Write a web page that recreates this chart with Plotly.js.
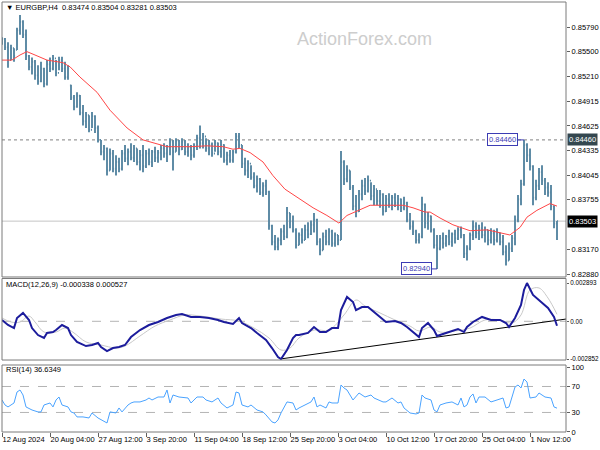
<!DOCTYPE html>
<html><head><meta charset="utf-8">
<script src="https://cdn.plot.ly/plotly-3.0.1.min.js"></script>
<style>html,body{margin:0;padding:0;background:#fff}#chart{width:600px;height:450px}</style>
</head><body><div id="chart"></div>
<script>
const symbolTitle = "\u25BC EURGBP,H4  0.83474 0.83504 0.83281 0.83503";
const macdTitle = "MACD(12,26,9) -0.000338 0.000527";
const rsiTitle = "RSI(14) 36.6349";
const watermark = "ActionForex.com";

const timeTickIdx = [0,16,32,48,64,80,96,112,128,144,160,176];
const timeLabels = ["12 Aug 2024","20 Aug 04:00","27 Aug 12:00","3 Sep 20:00","11 Sep 04:00","18 Sep 12:00","25 Sep 20:00","3 Oct 04:00","10 Oct 12:00","17 Oct 20:00","25 Oct 04:00","1 Nov 12:00"];
const priceTicks = [0.85790,0.85500,0.85210,0.84915,0.84625,0.84335,0.84045,0.83755,0.83170,0.82880];
const priceTickText = ["0.85790","0.85500","0.85210","0.84915","0.84625","0.84335","0.84045","0.83755","0.83170","0.82880"];
const macdTicks = [0.002893,0,-0.002852];
const macdTickText = ["0.002893","0.00","-0.002852"];
const rsiTicks = [100,70,30,0];
const rsiTickText = ["100","70","30","0"];

const opens = [.8560,.8565,.8555,.8540,.8554,.8552,.8575,.8585,.8570,.8545,
.8532,.8538,.8522,.8515,.8530,.8512,.8535,.8530,.8542,.8525,
.8540,.8530,.8520,.8510,.8496,.8485,.8498,.8478,.8468,.8475,
.8458,.8474,.8460,.8446,.8432,.8436,.8410,.8430,.8412,.8420,
.8412,.8430,.8424,.8432,.8425,.8436,.8420,.8428,.8415,.8430,
.8420,.8432,.8425,.8431,.8436,.8430,.8438,.8444,.8432,.8445,
.8435,.8444,.8432,.8438,.8428,.8438,.8448,.8442,.8450,.8436,
.8440,.8430,.8442,.8432,.8440,.8422,.8428,.8422,.8432,.8450,
.8440,.8418,.8410,.8418,.8402,.8392,.8400,.8384,.8392,.8385,
.8345,.8326,.8320,.8328,.8338,.8332,.8360,.8350,.8340,.8322,
.8334,.8328,.8340,.8335,.8346,.8352,.8326,.8316,.8332,.8326,
.8338,.8324,.8334,.8328,.8420,.8400,.8410,.8390,.8368,.8362,
.8382,.8392,.8386,.8398,.8380,.8388,.8374,.8382,.8362,.8376,
.8370,.8378,.8372,.8376,.8366,.8372,.8352,.8344,.8338,.8328,
.8332,.8370,.8348,.8356,.8340,.8322,.8318,.8330,.8324,.8332,
.8326,.8335,.8330,.8340,.8334,.8312,.8318,.8334,.8344,.8336,
.8342,.8334,.8340,.8328,.8336,.8328,.8336,.8326,.8314,.8304,
.8318,.8330,.8352,.8376,.8394,.8440,.8428,.8415,.8378,.8392,
.8408,.8398,.8390,.8384,.8368,.83474];
const highs = [.8567,.8566,.8561,.8558,.8554,.8578,.8593,.8587,.8576,.8546,
.8543,.8540,.8534,.8538,.8531,.8540,.8543,.8546,.8540,.8544,
.8544,.8538,.8534,.8511,.8499,.8502,.8499,.8487,.8479,.8475,
.8479,.8475,.8463,.8446,.8440,.8437,.8436,.8434,.8428,.8425,
.8434,.8440,.8436,.8442,.8440,.8436,.8434,.8440,.8434,.8436,
.8434,.8438,.8434,.8440,.8442,.8440,.8448,.8446,.8448,.8446,
.8448,.8446,.8442,.8440,.8442,.8452,.8463,.8454,.8448,.8446,
.8443,.8446,.8443,.8446,.8441,.8432,.8434,.8434,.8454,.8454,
.8440,.8425,.8422,.8416,.8408,.8404,.8401,.8396,.8399,.8386,
.8346,.8334,.8331,.8342,.8346,.8367,.8360,.8357,.8342,.8337,
.8342,.8346,.8349,.8351,.8360,.8353,.8330,.8337,.8340,.8342,
.8340,.8337,.8334,.8433,.8422,.8416,.8410,.8393,.8381,.8387,
.8399,.8401,.8404,.8396,.8393,.8387,.8387,.8383,.8381,.8383,
.8381,.8383,.8381,.8377,.8379,.8373,.8360,.8351,.8340,.8336,
.8379,.8371,.8361,.8357,.8342,.8334,.8334,.8337,.8334,.8340,
.8337,.8340,.8343,.8344,.8335,.8322,.8337,.8351,.8349,.8346,
.8349,.8344,.8340,.8342,.8340,.8342,.8337,.8334,.8322,.8325,
.8334,.8357,.8381,.8399,.84460,.8442,.8436,.8416,.8399,.8413,
.8416,.8401,.8396,.8393,.8369,.83504];
const lows = [.8558,.8552,.8531,.8540,.8538,.8552,.8570,.8566,.8540,.8528,
.8523,.8517,.8511,.8514,.8508,.8510,.8526,.8528,.8521,.8528,
.8526,.8517,.8517,.8493,.8481,.8484,.8475,.8463,.8460,.8455,
.8460,.8454,.8443,.8428,.8422,.8404,.8410,.8408,.8404,.8408,
.8410,.8420,.8416,.8422,.8420,.8416,.8410,.8408,.8413,.8416,
.8414,.8420,.8419,.8422,.8425,.8420,.8428,.8410,.8432,.8428,
.8434,.8428,.8426,.8422,.8425,.8434,.8436,.8436,.8432,.8428,
.8426,.8432,.8428,.8425,.8419,.8416,.8419,.8419,.8430,.8436,
.8413,.8404,.8401,.8399,.8389,.8384,.8381,.8379,.8381,.8340,
.8322,.8316,.8316,.8322,.8328,.8330,.8342,.8337,.8318,.8322,
.8324,.8328,.8330,.8334,.8337,.8322,.8310,.8316,.8322,.8322,
.8320,.8320,.8322,.8328,.8393,.8396,.8387,.8363,.8355,.8361,
.8375,.8381,.8384,.8375,.8369,.8369,.8366,.8357,.8361,.8366,
.8363,.8367,.8363,.8361,.8363,.8349,.8340,.8334,.8324,.8324,
.8330,.8342,.8340,.8337,.8318,.82940,.8316,.8318,.8320,.8322,
.8320,.8324,.8328,.8330,.8307,.8304,.8316,.8328,.8330,.8328,
.8330,.8325,.8322,.8324,.8322,.8325,.8322,.8310,.8298,.8304,
.8314,.8322,.8349,.8369,.8392,.8420,.8410,.8369,.8375,.8387,
.8393,.8381,.8379,.8363,.8342,.83281];
const closes = [.8565,.8555,.8540,.8554,.8545,.8575,.8585,.8570,.8545,.8532,
.8538,.8522,.8515,.8530,.8512,.8535,.8530,.8542,.8525,.8540,
.8530,.8520,.8530,.8496,.8485,.8498,.8478,.8468,.8475,.8458,
.8474,.8460,.8446,.8432,.8436,.8410,.8430,.8412,.8420,.8412,
.8430,.8424,.8432,.8425,.8436,.8420,.8428,.8415,.8430,.8420,
.8432,.8425,.8431,.8436,.8430,.8438,.8444,.8432,.8445,.8435,
.8444,.8432,.8438,.8428,.8438,.8448,.8442,.8450,.8436,.8440,
.8430,.8442,.8432,.8440,.8422,.8428,.8422,.8432,.8450,.8440,
.8418,.8410,.8418,.8402,.8392,.8400,.8384,.8392,.8385,.8345,
.8326,.8320,.8328,.8338,.8332,.8360,.8350,.8340,.8322,.8334,
.8328,.8340,.8335,.8346,.8352,.8326,.8316,.8332,.8326,.8338,
.8324,.8334,.8328,.8420,.8400,.8410,.8390,.8368,.8362,.8382,
.8392,.8386,.8398,.8380,.8388,.8374,.8382,.8362,.8376,.8370,
.8378,.8372,.8376,.8366,.8372,.8352,.8344,.8338,.8328,.8332,
.8370,.8348,.8356,.8340,.8322,.8318,.8330,.8324,.8332,.8326,
.8335,.8330,.8340,.8334,.8312,.8318,.8334,.8344,.8336,.8342,
.8334,.8340,.8328,.8336,.8328,.8336,.8326,.8314,.8304,.8318,
.8330,.8352,.8376,.8394,.8440,.8428,.8415,.8378,.8392,.8408,
.8398,.8390,.8384,.8368,.83474,.83503];

const maIdx = [0,3.3,6,8.3,11,15,20.3,22.7,26,31.7,36,41.7,47,55,62.7,68.3,73.7,77,79.3,82.7,87,90.3,94.3,98.3,103.7,108.3,112.3,115,118.3,122.7,126,133.7,137,141,142.7,146,150.3,156,161.7,166,169.3,172.7,175,178.3,182.7,185];
const maVal = [.8540,.8540,.8546,.8550,.8546,.8540,.8537,.8532,.8520,.8502,.8481,.8460,.8446,.8438,.8438,.8439,.8438,.8435,.8436,.8431,.8420,.8404,.8388,.8379,.8366,.8357,.8348,.8357,.8362,.8369,.8369,.8369,.8366,.8361,.8361,.8354,.8346,.8339,.8340,.8337,.8334,.8343,.8355,.8363,.8371,.8368];

const macdIdx = [0,2,4,5,7,9,10,12,14,15,17,18,20,22,23,25,28,30,32,33,35,37,39,41,43,46,49,52,55,58,60,63,66,69,72,74,77,79,80,83,85,88,90,92,93,95,97,98,99,102,104,106,108,110,112,113,115,117,118,120,122,124,126,128,131,133,135,137,139,140,142,144,145,148,150,152,154,155,157,160,163,166,168,169,171,173,174,175,177,179,180,182,184,185];
const macdVal = [0.00010,-0.00028,-0.00051,0.00025,0.00063,0.00010,-0.00051,-0.00104,-0.00126,-0.00088,-0.00081,-0.00066,-0.00028,-0.00051,-0.00104,-0.00156,-0.00187,-0.00179,-0.00164,-0.00194,-0.00225,-0.00202,-0.00194,-0.00179,-0.00119,-0.00066,-0.00028,-0.00005,0.00025,0.00048,0.00055,0.00033,0.00033,0.00025,0.00010,-0.00005,-0.00020,0.00025,-0.00013,-0.00051,-0.00088,-0.00141,-0.00202,-0.00270,-0.002852,-0.00217,-0.00126,-0.00104,-0.00104,-0.00088,-0.00043,-0.00081,-0.00081,-0.00051,-0.00051,0.00085,0.00184,0.00146,0.00085,0.00108,0.00108,0.00070,0.00033,-0.00005,0.00002,-0.00013,-0.00043,-0.00081,-0.00119,-0.00051,-0.00013,-0.00066,-0.00111,-0.00088,-0.00073,-0.00058,-0.00081,-0.00043,-0.00005,0.00033,0.00010,0.00010,-0.00013,-0.00043,0.00025,0.00123,0.00237,0.002893,0.00199,0.00161,0.00146,0.00101,0.00033,-0.000338];
const signalIdx = [0,3,6,9,11,14,18,21,24,28,33,38,41,46,51,56,61,66,73,79,84,89,93,96,99,104,109,114,118,121,126,131,136,139,143,146,151,156,161,166,170,173,176,179,182,185];
const signalVal = [0.00025,-0.00005,-0.00005,0.00040,-0.00005,-0.00081,-0.00081,-0.00051,-0.00088,-0.00156,-0.00179,-0.00202,-0.00187,-0.00111,-0.00036,0.00010,0.00048,0.00040,0.00017,0.00002,-0.00051,-0.00126,-0.00217,-0.00202,-0.00126,-0.00066,-0.00066,0.00048,0.00161,0.00116,0.00063,0.00010,-0.00036,-0.00073,-0.00043,-0.00081,-0.00073,-0.00051,0.00010,0.00010,-0.00013,0.00048,0.00237,0.00252,0.00176,0.000527];
const trendIdx = [92.7,188];
const trendVal = [-0.00285,0.00017];

const rsiIdx = [0,1,2,4,5,6,7,8,10,12,13,14,16,17,18,19,20,22,23,24,25,27,29,30,32,34,35,36,38,39,40,42,43,44,46,48,49,50,52,54,55,56,57,59,62,63,65,67,68,70,72,73,75,77,78,79,80,82,83,85,87,88,90,91,92,93,95,97,98,99,101,103,104,105,106,108,109,110,112,113,114,115,117,118,119,121,123,124,127,128,130,132,133,134,136,138,139,140,141,143,144,145,146,148,150,152,153,154,155,156,157,158,159,161,163,165,167,168,169,170,171,172,173,174,175,176,178,179,181,183,184,185];
const rsiVal = [49.2,41.5,38.5,44.6,61.5,64.6,56.9,38.5,33.8,30.8,30.8,41.5,44.6,38.5,49.2,53.8,41.5,38.5,30.8,29.2,23.1,23.1,21.5,29.2,21.5,16.9,13.8,30.8,29.2,36.9,30.8,41.5,44.6,46.2,46.2,49.2,52.3,49.2,53.8,53.8,64.6,44.6,56.9,53.8,52.3,44.6,53.8,53.8,49.2,46.2,52.3,44.6,36.9,41.5,61.5,60.0,41.5,38.5,41.5,33.8,30.8,26.2,15.4,13.8,18.5,29.2,46.2,44.6,33.8,36.9,41.5,46.2,53.8,38.5,41.5,36.9,46.2,44.6,44.6,72.3,67.7,64.6,49.2,53.8,60.0,53.8,56.9,52.3,46.2,46.2,52.3,44.6,46.2,36.9,29.2,27.7,29.2,56.9,52.3,49.2,33.8,30.8,41.5,44.6,46.2,41.5,52.3,38.5,41.5,53.8,58.5,44.6,53.8,53.8,46.2,49.2,52.3,36.9,38.5,53.8,69.2,72.3,67.7,81.5,76.9,52.3,53.8,60.0,53.8,52.3,38.5,36.6349];

const highMark = 0.84460, lowMark = 0.82940, lastClose = 0.83503;
const highMarkIdx = 174, lowMarkIdx = 145;

const barIdx = highs.map((_, i) => i);
const barColor = '#5887a2';
const fam = 'Liberation Sans, Arial, sans-serif';
const axisFont = {family: fam, size: 7.5, color: '#000'};
const smallAxisFont = {family: fam, size: 6.3, color: '#000'};

const traces = [
  {type:'ohlc', x:barIdx, open:opens, high:highs, low:lows, close:closes, xaxis:'x', yaxis:'y',
   increasing:{line:{color:barColor, width:1.9}}, decreasing:{line:{color:barColor, width:1.9}},
   tickwidth:0.35, hoverinfo:'skip', showlegend:false},
  {type:'scatter', mode:'lines', x:maIdx, y:maVal, xaxis:'x', yaxis:'y', line:{color:'#ff4646', width:1}, hoverinfo:'skip'},
  {type:'scatter', mode:'lines', x:signalIdx, y:signalVal, xaxis:'x', yaxis:'y2', line:{color:'#c8c8c8', width:1, shape:'spline'}, hoverinfo:'skip'},
  {type:'scatter', mode:'lines', x:trendIdx, y:trendVal, xaxis:'x', yaxis:'y2', line:{color:'#000', width:1}, hoverinfo:'skip'},
  {type:'scatter', mode:'lines', x:macdIdx, y:macdVal, xaxis:'x', yaxis:'y2', line:{color:'#1c1c9c', width:2}, hoverinfo:'skip'},
  {type:'scatter', mode:'lines', x:rsiIdx, y:rsiVal, xaxis:'x', yaxis:'y3', line:{color:'#4aa3ff', width:1}, hoverinfo:'skip'}
];

function yAx(domain, range, tv, tt, tf, tl) {
  return {domain, range, side:'right', anchor:'x', tickvals:tv, ticktext:tt, ticks:'outside', ticklen:tl,
    tickcolor:'#606060', tickfont:tf, showgrid:false, zeroline:false, showline:false, fixedrange:true};
}
function panelRect(yref) {
  return {type:'rect', xref:'x domain', yref:yref+' domain', x0:0, x1:1, y0:0, y1:1, line:{color:'#7a7a7a', width:1}, layer:'above'};
}
function hLine(yref, y, color, dash) {
  return {type:'line', xref:'x domain', x0:0, x1:1, yref, y0:y, y1:y, line:{color, width:1, dash}, layer:'below'};
}

const layout = {
  width:600, height:450, margin:{l:2, r:34, t:2, b:18},
  paper_bgcolor:'#fff', plot_bgcolor:'#fff', showlegend:false,
  font:{family:fam},
  xaxis:{range:[0,188], anchor:'y3', tickvals:timeTickIdx, ticktext:timeLabels, ticks:'outside', ticklen:4,
    tickcolor:'#606060', tickfont:axisFont, tickangle:0, ticklabelposition:'outside right', showgrid:false, zeroline:false,
    showline:false, rangeslider:{visible:false}, fixedrange:true},
  yaxis: yAx([0.3605,1], [0.82845,0.860845], priceTicks, priceTickText, axisFont, 3),
  yaxis2: yAx([0.1674,0.357], [-0.002926,0.003236], macdTicks, macdTickText, smallAxisFont, 2),
  yaxis3: yAx([0,0.1558], [-0.1,103.1], rsiTicks, rsiTickText, axisFont, 3),
  shapes:[
    hLine('y', highMark, '#808080', 'dot'),
    hLine('y', lastClose, '#c4c4c4', 'solid'),
    hLine('y2', 0, '#b4b4b4', 'dash'),
    hLine('y3', 70, '#b4b4b4', 'dash'),
    hLine('y3', 30, '#b4b4b4', 'dash'),
    panelRect('y'), panelRect('y2'), panelRect('y3')
  ],
  annotations:[
    {xref:'paper', yref:'paper', x:0.004, y:0.988, xanchor:'left', yanchor:'middle', text:symbolTitle, showarrow:false, font:{family:fam, size:7.5, color:'#000'}},
    {xref:'paper', yref:'paper', x:0.004, y:0.342, xanchor:'left', yanchor:'middle', text:macdTitle, showarrow:false, font:{family:fam, size:7.5, color:'#000'}},
    {xref:'paper', yref:'paper', x:0.004, y:0.1465, xanchor:'left', yanchor:'middle', text:rsiTitle, showarrow:false, font:{family:fam, size:7.5, color:'#000'}},
    {xref:'paper', yref:'paper', x:0.642, y:0.914, xanchor:'center', yanchor:'middle', text:watermark, showarrow:false, font:{family:fam, size:18, color:'#cdcdcd'}},
    {xref:'paper', yref:'y', x:1, y:highMark, xanchor:'left', xshift:1, yanchor:'middle', text:'0.84460', showarrow:false, bgcolor:'#34474f', borderpad:1, font:{family:fam, size:7.5, color:'#fff'}},
    {xref:'paper', yref:'y', x:1, y:lastClose, xanchor:'left', xshift:1, yanchor:'middle', text:'0.83503', showarrow:false, bgcolor:'#000', borderpad:1, font:{family:fam, size:7.5, color:'#fff'}},
    {xref:'x', yref:'y', x:highMarkIdx, y:highMark, text:'0.84460', showarrow:true, arrowhead:0, arrowwidth:1, arrowcolor:'#3c3cb4', ax:-22, ay:0, standoff:0,
     bordercolor:'#3c3cb4', borderwidth:1, borderpad:1, bgcolor:'#fff', font:{family:fam, size:7.5, color:'#3c3cb4'}},
    {xref:'x', yref:'y', x:lowMarkIdx, y:lowMark, text:'0.82940', showarrow:true, arrowhead:0, arrowwidth:1, arrowcolor:'#3c3cb4', ax:-21, ay:0, standoff:0,
     bordercolor:'#3c3cb4', borderwidth:1, borderpad:1, bgcolor:'#fff', font:{family:fam, size:7.5, color:'#3c3cb4'}}
  ]
};

Plotly.newPlot('chart', traces, layout, {staticPlot:true, displayModeBar:false});
</script>
</body></html>
